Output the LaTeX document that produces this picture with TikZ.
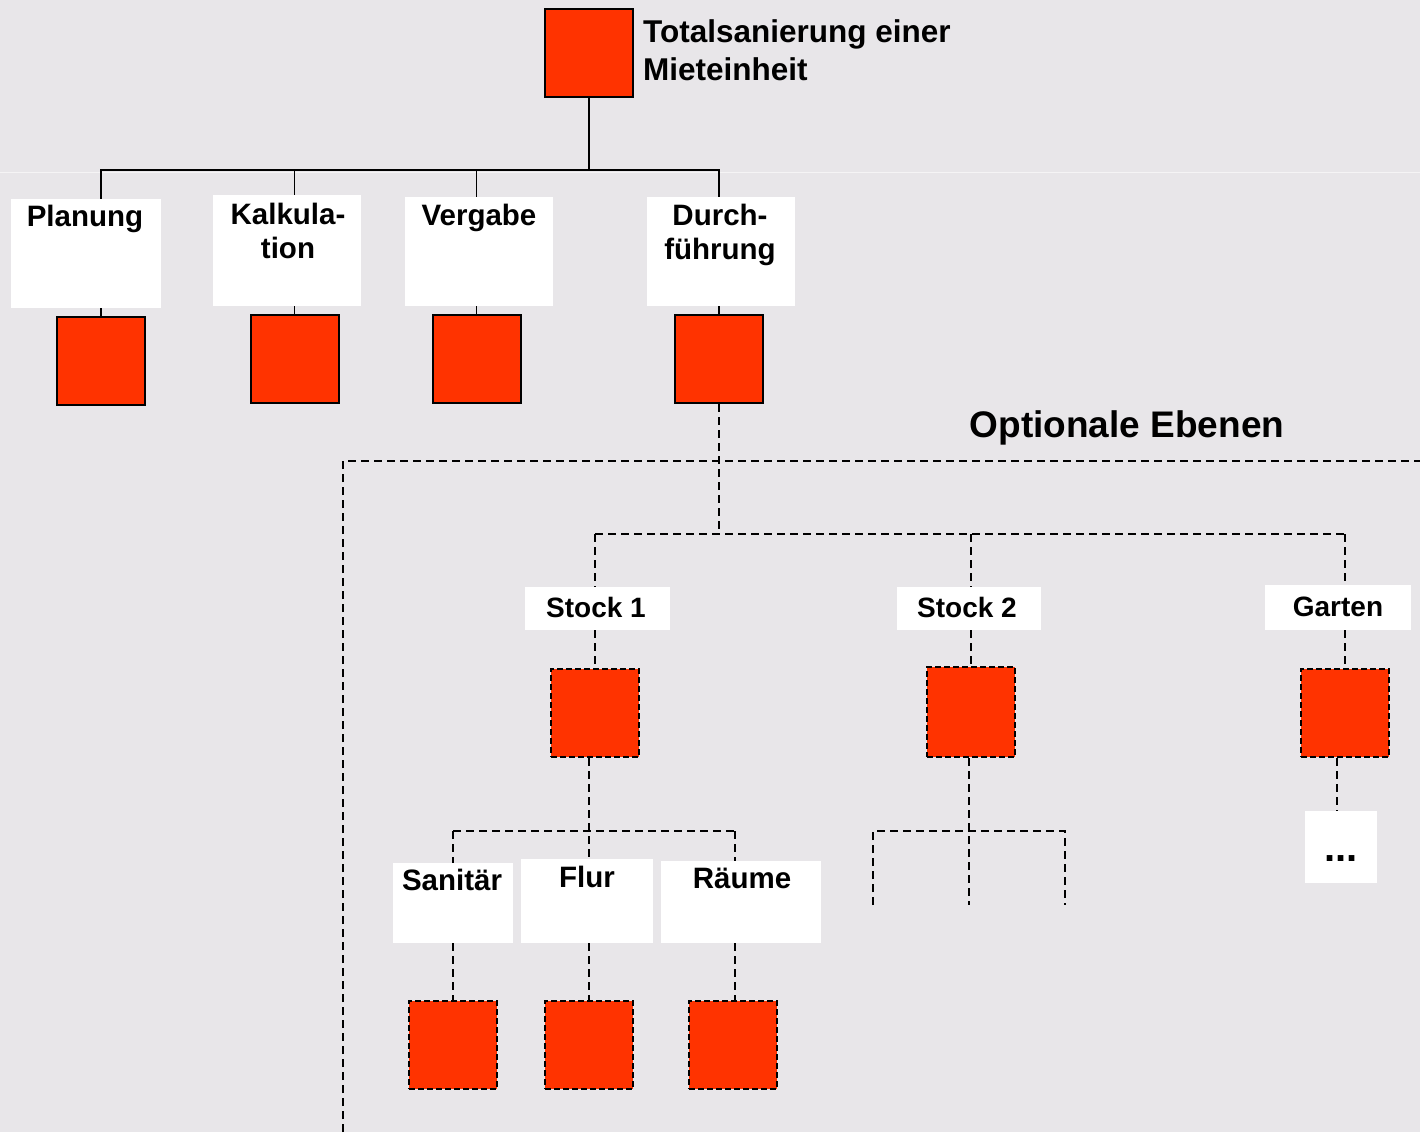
\documentclass[tikz,border=0pt]{standalone}
\usepackage{fontspec}
\setmainfont{Liberation Sans}
\definecolor{bgc}{HTML}{E8E6E9}
\definecolor{sqred}{HTML}{FF3300}
\begin{document}
\begin{tikzpicture}[x=1pt,y=-1pt,
  sq/.style={draw=black,line width=2pt,fill=sqred,minimum width=88pt,minimum height=88pt,inner sep=0pt},
  dsq/.style={sq,dash pattern=on 6pt off 3pt},
  lbox/.style={fill=white,inner sep=0pt},
  txt/.style={font=\fontsize{28}{34}\selectfont\bfseries,inner sep=0pt,anchor=base,align=center},
  txtb/.style={txt,font=\fontsize{29.5}{34}\selectfont\bfseries},
  conn/.style={line width=1.8pt},
  dconn/.style={line width=1.8pt,dash pattern=on 8pt off 5pt}]
\fill[bgc] (0,0) rectangle (1420,1132);
\useasboundingbox (0,0) rectangle (1420,1132);
\draw[line width=1pt,color=white!55!bgc] (0,172) -- (1420,172);
% level 0
\node[sq] (top) at (589,53) {};
\node[txt,anchor=base west,align=left,font=\fontsize{31.5}{38}\selectfont\bfseries] (toptxt) at (643,81) {Totalsanierung einer\\Mieteinheit};
% level 1 boxes
\node[lbox,minimum width=150pt,minimum height=109pt] (pb) at (86,253.5) {};
\node[lbox,minimum width=148pt,minimum height=111pt] (kb) at (287,250.5) {};
\node[lbox,minimum width=148pt,minimum height=109pt] (vb) at (479,251.5) {};
\node[lbox,minimum width=148pt,minimum height=109pt] (db) at (721,251.5) {};
\node[txtb] (pt) at (85,226) {Planung};
\node[txtb] (kt) at (288,258) {Kalkula-\\tion};
\node[txtb] (vt) at (479,225) {Vergabe};
\node[txtb] (dt) at (720,259) {Durch-\\führung};
\node[sq] (ps) at (101,361) {};
\node[sq] (ks) at (294.5,359) {};
\node[sq] (vs) at (476.5,359) {};
\node[sq] (ds) at (719,359) {};
\coordinate (bus1) at (0,170);
\draw[conn] (top.south) -- (top.south |- bus1);
\draw[conn] (ps.north |- pb.north) -- (ps.north |- bus1) -- (ds.north |- bus1) -- (ds.north |- db.north);
\draw[conn] (ks.north |- kb.north) -- (ks.north |- bus1);
\draw[conn] (vs.north |- vb.north) -- (vs.north |- bus1);
\draw[conn] (pb.south -| ps.north) -- (ps.north);
\draw[conn] (kb.south -| ks.north) -- (ks.north);
\draw[conn] (vb.south -| vs.north) -- (vs.north);
\draw[conn] (db.south -| ds.north) -- (ds.north);
% optional region
\node[font=\fontsize{37}{44}\selectfont\bfseries,inner sep=0pt,anchor=base] (opt) at (1127,437) {Optionale Ebenen};
\coordinate (optL) at (343,1132);
\coordinate (optR) at (1420,461);
\draw[dconn] (optL) -- (optL |- optR) -- (optR);
% level 2
\node[lbox,minimum width=145pt,minimum height=43pt] (s1) at (597.5,608.5) {};
\node[lbox,minimum width=144pt,minimum height=43pt] (s2) at (969,608.5) {};
\node[lbox,minimum width=146pt,minimum height=45pt] (gl) at (1338,607.5) {};
\node[txt] (s1t) at (596,617) {Stock 1};
\node[txt] (s2t) at (967,617) {Stock 2};
\node[txt] (glt) at (1338,616) {Garten};
\node[dsq] (s1q) at (595,713) {};
\node[dsq,minimum height=90pt] (s2q) at (971,712) {};
\node[dsq] (gq) at (1345,713) {};
\coordinate (bus2) at (0,534);
\draw[dconn] (ds.south) -- (ds.south |- bus2);
\draw[dconn] (s1q.north |- bus2) -- (gq.north |- bus2);
\draw[dconn] (s1q.north |- bus2) -- (s1q.north |- s1.north);
\draw[dconn] (s2q.north |- bus2) -- (s2q.north |- s2.north);
\draw[dconn] (gq.north |- bus2) -- (gq.north |- gl.north);
\draw[dconn] (s1.south -| s1q.north) -- (s1q.north);
\draw[dconn] (s2.south -| s2q.north) -- (s2q.north);
\draw[dconn] (gl.south -| gq.north) -- (gq.north);
% level 3 under Stock 1
\node[lbox,minimum width=120pt,minimum height=80pt] (sa) at (453,903) {};
\node[lbox,minimum width=132pt,minimum height=84pt] (fl) at (587,901) {};
\node[lbox,minimum width=160pt,minimum height=82pt] (ra) at (741,902) {};
\node[txtb] (sat) at (452,890) {Sanitär};
\node[txtb] (flt) at (587,887) {Flur};
\node[txtb] (rat) at (742,888) {Räume};
\node[dsq] (saq) at (453,1045) {};
\node[dsq] (flq) at (589,1045) {};
\node[dsq] (raq) at (733,1045) {};
\coordinate (bus3) at (0,831);
\draw[dconn] (s1q.south -| flq.north) -- (flq.north |- fl.north);
\draw[dconn] (saq.north |- bus3) -- ([xshift=2pt]raq.north |- bus3);
\draw[dconn] (saq.north |- bus3) -- (saq.north |- sa.north);
\draw[dconn] ([xshift=2pt]raq.north |- bus3) -- ([xshift=2pt]raq.north |- ra.north);
\draw[dconn] (sa.south -| saq.north) -- (saq.north);
\draw[dconn] (fl.south -| flq.north) -- (flq.north);
\draw[dconn] ([xshift=2pt]ra.south -| raq.north) -- ([xshift=2pt]raq.north);
% Stock 2 stub
\coordinate (s2l) at (873,905);
\coordinate (s2m) at (969,905);
\coordinate (s2r) at (1065,905);
\coordinate (bus4) at (0,831);
\draw[dconn] ([xshift=-2pt]s2q.south) -- (s2m);
\draw[dconn] (s2l) -- (s2l |- bus4) -- (s2r |- bus4) -- (s2r);
% Garten stub
\node[lbox,minimum width=72pt,minimum height=72pt] (dots) at (1341,847) {};
\node[txt,font=\fontsize{40}{44}\selectfont\bfseries] (dotst) at (1341,861) {...};
\draw[dconn] ([xshift=-8pt]gq.south) -- ([xshift=-8pt]gq.south |- dots.north);
\end{tikzpicture}
\end{document}
